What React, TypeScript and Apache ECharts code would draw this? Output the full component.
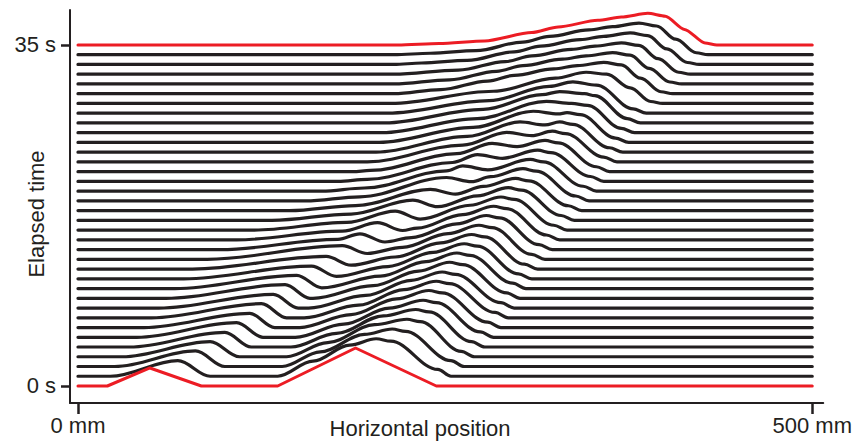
import { useEffect, useRef } from "react";
import * as echarts from "echarts";

// Axis ticks / labels
const positionTicks = [0, 500];
const positionLabels = ["0 mm", "500 mm"];
const timeTicks = [0, 35];
const timeLabels = ["0 s", "35 s"];
const xAxisTitle = "Horizontal position";
const yAxisTitle = "Elapsed time";

// Elapsed time of each profile (s)
const elapsedSeconds = [
  0, 1, 2, 3, 4, 5, 6, 7, 8, 9, 10, 11, 12, 13, 14, 15, 16, 17, 18, 19, 20, 21,
  22, 23, 24, 25, 26, 27, 28, 29, 30, 31, 32, 33, 34, 35,
];

// Bed height profiles: [position mm, height (in s-spacing units)]
const profileT00 = [[0,0],[20,0],[49,1.85],[84,0],[136,0],[189,3.9],[244,0],[500,0]];
const profileT01 = [[0,0],[22,0],[68,1.6],[90,0],[136,0],[160,1.55],[185,3.2],[203,3.85],[213,3.6],[245,0.7],[254,0],[500,0]];
const profileT02 = [[0,0],[25,0],[80,1.6],[100,0],[139,0],[165,1.5],[195,3.3],[214,3.85],[223,3.6],[254,0.6],[263,0],[500,0]];
const profileT03 = [[0,0],[30,0],[90,1.55],[110,0],[142,0],[170,1.45],[202,3.3],[224,3.85],[233,3.6],[261,0.55],[270,0],[500,0]];
const profileT04 = [[0,0],[35,0],[100,1.5],[118,0],[145,0],[176,1.4],[208,3.2],[230,3.85],[239,3.6],[268,0.55],[277,0],[500,0]];
const profileT05 = [[0,0],[40,0],[108,1.5],[126,0],[148,0],[181,1.35],[212,3.0],[235,3.8],[244,3.55],[274,0.55],[283,0],[500,0]];
const profileT06 = [[0,0],[45,0],[117,1.45],[134,0],[151,0],[186,1.33],[217,2.95],[239,3.8],[248,3.55],[279,0.55],[288,0],[500,0]];
const profileT07 = [[0,0],[50,0],[125,1.45],[142,0],[154,0],[191,1.3],[222,2.9],[244,3.75],[253,3.5],[284,0.55],[293,0],[500,0]];
const profileT08 = [[0,0],[55,0],[133,1.4],[150,0],[157,0],[196,1.3],[227,2.85],[248,3.7],[257,3.45],[288,0.55],[297,0],[500,0]];
const profileT09 = [[0,0],[60,0],[141,1.4],[158,0],[160,0],[201,1.3],[232,2.8],[253,3.7],[262,3.45],[292,0.55],[301,0],[500,0]];
const profileT10 = [[0,0],[66,0],[149,1.35],[166,0.08],[206,1.28],[237,2.76],[258,3.65],[267,3.4],[296,0.55],[305,0],[500,0]];
const profileT11 = [[0,0],[72,0],[159,1.3],[176,0.25],[211,1.26],[242,2.72],[263,3.6],[272,3.35],[300,0.5],[309,0],[500,0]];
const profileT12 = [[0,0],[78,0],[169,1.3],[186,0.4],[216,1.24],[247,2.68],[268,3.55],[277,3.3],[304,0.5],[313,0],[500,0]];
const profileT13 = [[0,0],[88,0],[180,1.4],[197,0.6],[221,1.23],[252,2.64],[273,3.5],[282,3.25],[309,0.5],[318,0],[500,0]];
const profileT14 = [[0,0],[97,0],[177,1.05],[192,1.62],[209,0.78],[227,1.23],[258,2.63],[278,3.5],[287,3.25],[314,0.5],[323,0],[500,0]];
const profileT15 = [[0,0],[108,0],[180,0.9],[204,1.76],[221,0.96],[231,1.21],[262,2.59],[283,3.45],[292,3.2],[319,0.5],[328,0],[500,0]];
const profileT16 = [[0,0],[120,0],[183,0.79],[216,1.95],[233,1.13],[267,2.55],[288,3.4],[297,3.15],[324,0.5],[333,0],[500,0]];
const profileT17 = [[0,0],[132,0],[186,0.65],[228,2.07],[245,1.4],[272,2.51],[293,3.35],[302,3.1],[329,0.5],[338,0],[500,0]];
const profileT18 = [[0,0],[144,0],[189,0.52],[240,2.19],[257,1.7],[276,2.48],[298,3.3],[307,3.05],[334,0.5],[343,0],[500,0]];
const profileT19 = [[0,0],[155,0],[192,0.42],[251,2.4],[268,1.97],[281,2.48],[303,3.3],[312,3.05],[339,0.5],[348,0],[500,0]];
const profileT20 = [[0,0],[166,0],[195,0.32],[251,2.08],[262,2.59],[279,2.19],[308,3.25],[317,3.0],[344,0.5],[353,0],[500,0]];
const profileT21 = [[0,0],[177,0],[197,0.21],[255,1.94],[272,2.75],[289,2.37],[313,3.2],[322,2.95],[349,0.5],[358,0],[500,0]];
const profileT22 = [[0,0],[187,0],[199,0.12],[258,1.84],[282,2.91],[299,2.56],[318,3.2],[327,2.95],[353,0.5],[362,0],[500,0]];
const profileT23 = [[0,0],[197,0],[262,1.72],[292,3.03],[309,2.7],[323,3.15],[332,2.9],[358,0.5],[367,0],[500,0]];
const profileT24 = [[0,0],[203,0],[265,1.62],[301,3.1],[318,2.79],[328,3.1],[337,2.85],[362,0.45],[371,0],[500,0]];
const profileT25 = [[0,0],[205,0],[269,1.54],[310,3.2],[327,2.92],[333,3.05],[342,2.85],[366,0.45],[375,0],[500,0]];
const profileT26 = [[0,0],[207,0],[272,1.45],[319,3.22],[336,3.0],[347,2.8],[370,0.45],[379,0],[500,0]];
const profileT27 = [[0,0],[209,0],[276,1.39],[316,2.9],[328,3.22],[345,3.0],[352,2.8],[374,0.45],[383,0],[500,0]];
const profileT28 = [[0,0],[211,0],[280,1.29],[321,2.75],[337,3.22],[353,2.88],[378,0.45],[387,0],[500,0]];
const profileT29 = [[0,0],[213,0],[283,1.25],[325,2.6],[346,3.2],[360,3.0],[376,1.6],[390,0.2],[398,0],[500,0]];
const profileT30 = [[0,0],[215,0],[247,0.42],[279,1.3],[297,1.88],[324,2.55],[340,2.88],[358,3.22],[370,2.95],[383,1.6],[397,0.2],[405,0],[500,0]];
const profileT31 = [[0,0],[215,0],[253,0.42],[285,1.3],[303,1.88],[330,2.55],[346,2.88],[364,3.22],[376,2.95],[389,1.6],[403,0.2],[411,0],[500,0]];
const profileT32 = [[0,0],[215,0],[259,0.42],[291,1.3],[309,1.88],[336,2.55],[352,2.88],[370,3.22],[382,2.95],[395,1.6],[409,0.2],[417,0],[500,0]];
const profileT33 = [[0,0],[215,0],[234,0.15],[265,0.42],[297,1.3],[315,1.88],[342,2.55],[358,2.88],[376,3.24],[388,2.95],[401,1.6],[415,0.2],[423,0],[500,0]];
const profileT34 = [[0,0],[215,0],[240,0.15],[271,0.42],[303,1.3],[321,1.88],[348,2.55],[364,2.88],[382,3.25],[394,2.95],[407,1.6],[421,0.2],[429,0],[500,0]];
const profileT35 = [[0,0],[218,0],[246,0.15],[277,0.41],[309,1.27],[327,1.85],[354,2.53],[370,2.87],[388,3.25],[400,2.95],[413,1.6],[427,0.2],[435,0],[500,0]];

const profiles = [
  profileT00, profileT01, profileT02, profileT03, profileT04, profileT05,
  profileT06, profileT07, profileT08, profileT09, profileT10, profileT11,
  profileT12, profileT13, profileT14, profileT15, profileT16, profileT17,
  profileT18, profileT19, profileT20, profileT21, profileT22, profileT23,
  profileT24, profileT25, profileT26, profileT27, profileT28, profileT29,
  profileT30, profileT31, profileT32, profileT33, profileT34, profileT35,
];

const INK = "#231f20";
const RED = "#ec1c24";
const FONT = "'Liberation Sans', Arial, Helvetica, sans-serif";

export default function App() {
  const ref = useRef<HTMLDivElement>(null);

  useEffect(() => {
    if (!ref.current) return;
    const chart = echarts.init(ref.current, null, { renderer: "svg" });
    const first = elapsedSeconds[0];
    const last = elapsedSeconds[elapsedSeconds.length - 1];

    const series = profiles.map((prof, i) => {
      const t = elapsedSeconds[i];
      const isRed = t === first || t === last;
      return {
        type: "line",
        name: `${t} s`,
        data: prof.map(([x, h]) => [x, t + h]),
        showSymbol: false,
        symbol: "none",
        smooth: t === first ? false : isRed ? 0.25 : 0.35,
        smoothMonotone: "x",
        silent: true,
        z: isRed ? 3 : 2,
        lineStyle: { color: isRed ? RED : INK, width: isRed ? 3 : 3.2, cap: "round", join: "round" },
      };
    });

    chart.setOption({
      animation: false,
      backgroundColor: "#ffffff",
      textStyle: { fontFamily: FONT },
      grid: { left: 70, right: 29, top: 10, bottom: 38, containLabel: false },
      xAxis: {
        type: "value",
        min: -5.43,
        max: 507.46,
        splitLine: { show: false },
        axisLine: { show: true, onZero: false, lineStyle: { color: INK, width: 2 } },
        axisTick: {
          show: true,
          customValues: positionTicks,
          length: 11,
          lineStyle: { color: INK, width: 2.5 },
        },
        axisLabel: {
          show: true,
          customValues: positionTicks,
          margin: 11,
          fontSize: 22,
          color: INK,
          fontFamily: FONT,
          formatter: (v: number) => positionLabels[positionTicks.indexOf(v)] ?? "",
        },
      },
      yAxis: {
        type: "value",
        min: -1.745,
        max: 38.59,
        splitLine: { show: false },
        axisLine: { show: true, onZero: false, lineStyle: { color: INK, width: 2 } },
        axisTick: {
          show: true,
          customValues: timeTicks,
          length: 9,
          lineStyle: { color: INK, width: 2.5 },
        },
        axisLabel: {
          show: true,
          customValues: timeTicks,
          margin: 14,
          fontSize: 22,
          color: INK,
          fontFamily: FONT,
          formatter: (v: number) => timeLabels[timeTicks.indexOf(v)] ?? "",
        },
      },
      graphic: [
        {
          type: "text",
          x: 420,
          y: 428,
          style: {
            text: xAxisTitle,
            fill: INK,
            font: `22px ${FONT}`,
            textAlign: "center",
            textVerticalAlign: "middle",
          },
        },
        {
          type: "text",
          x: 36,
          y: 214,
          rotation: Math.PI / 2,
          style: {
            text: yAxisTitle,
            fill: INK,
            font: `22px ${FONT}`,
            textAlign: "center",
            textVerticalAlign: "middle",
          },
        },
      ],
      series,
    });

    return () => chart.dispose();
  }, []);

  return (
    <div
      ref={ref}
      style={{ position: "fixed", left: 0, top: 0, width: 855, height: 441, background: "#fff" }}
    />
  );
}
